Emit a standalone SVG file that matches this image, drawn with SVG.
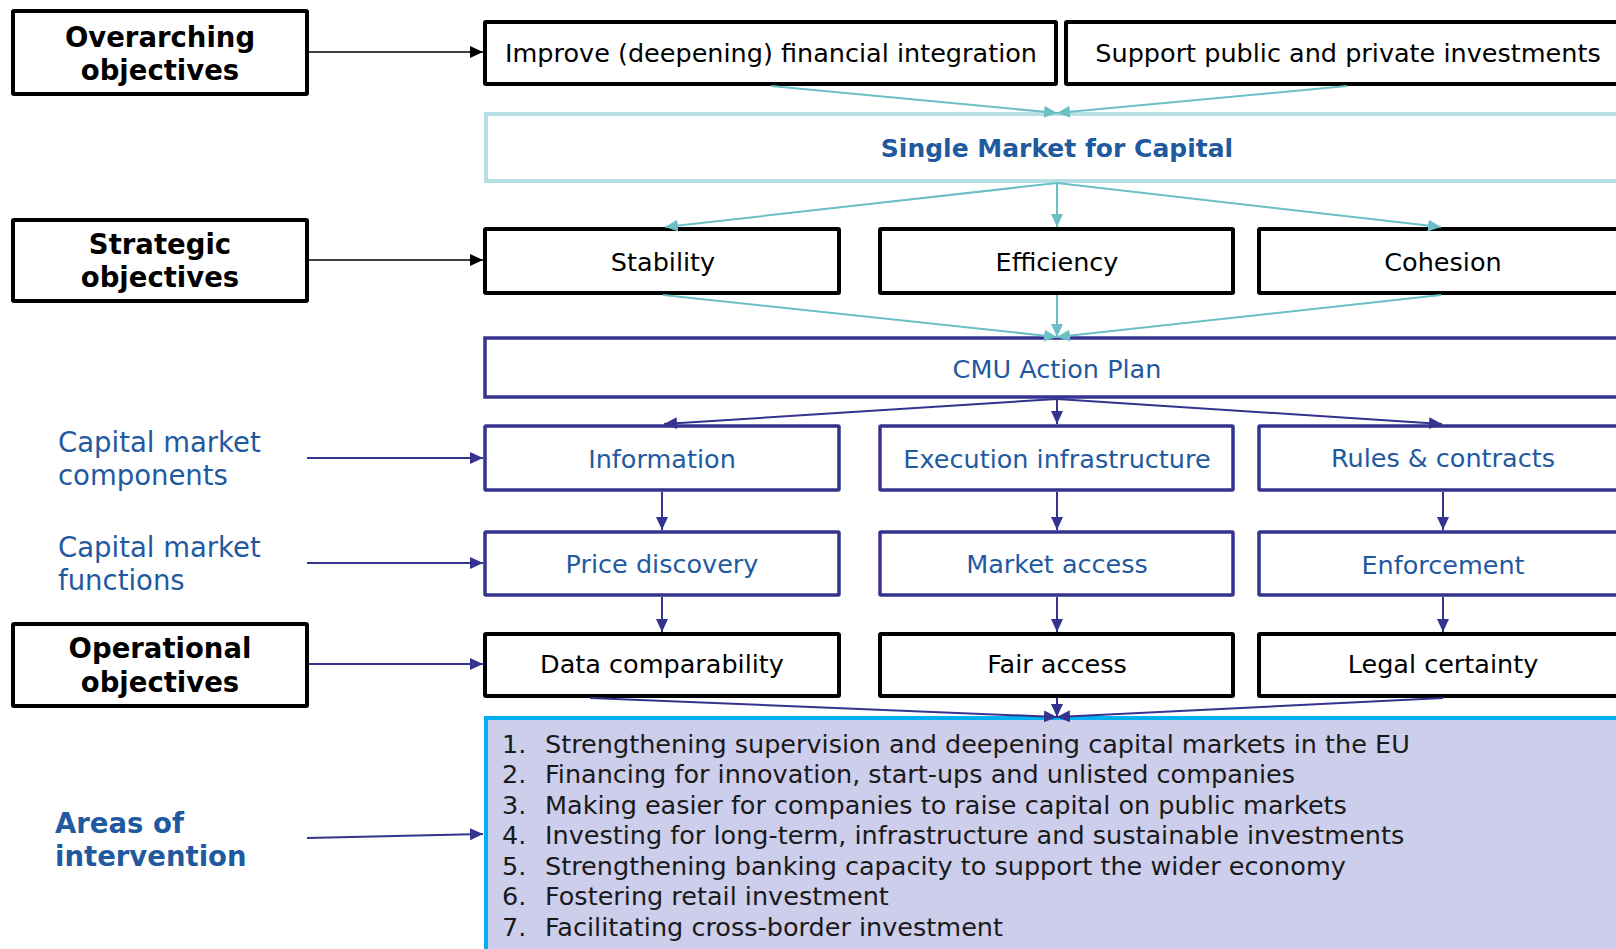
<svg xmlns="http://www.w3.org/2000/svg" width="1616" height="949" viewBox="0 0 1616 949">
<defs>
<style>
.bk{fill:#fff;stroke:#000;stroke-width:4}
.nv{fill:#fff;stroke:#34338f;stroke-width:3.5}
.tl{fill:#fff;stroke:#b6e0e4;stroke-width:4}
.ar{fill:#cdcdec;stroke:#00b0f0;stroke-width:4}
.t{font-family:"DejaVu Sans","Verdana",sans-serif;font-size:25.5px;text-anchor:middle}
.blk{fill:#000}
.blu{fill:#1f5aa0}
.hd{font-family:"DejaVu Sans","Verdana",sans-serif;font-weight:bold;font-size:27.5px;text-anchor:middle;fill:#000}
.lb{font-family:"DejaVu Sans","Verdana",sans-serif;font-size:27.5px;fill:#1f5aa0}
.lbb{font-family:"DejaVu Sans","Verdana",sans-serif;font-size:27.5px;font-weight:bold;fill:#1f5aa0}
.li{font-family:"DejaVu Sans","Verdana",sans-serif;font-size:25.5px;fill:#1a1a1a}
.ct{fill:none;stroke:#6dbfc6;stroke-width:2;marker-end:url(#mt)}
.cn{fill:none;stroke:#34338f;stroke-width:2;marker-end:url(#mn)}
.ck{fill:none;stroke:#000;stroke-width:1.6;marker-end:url(#mk)}
</style>
<marker id="mt" markerUnits="userSpaceOnUse" markerWidth="14" markerHeight="12" refX="13" refY="6" orient="auto"><path d="M0,0 L13,6 L0,12 z" fill="#6dbfc6"/></marker>
<marker id="mn" markerUnits="userSpaceOnUse" markerWidth="14" markerHeight="12" refX="13" refY="6" orient="auto"><path d="M0,0 L13,6 L0,12 z" fill="#34338f"/></marker>
<marker id="mk" markerUnits="userSpaceOnUse" markerWidth="14" markerHeight="12" refX="13" refY="6" orient="auto"><path d="M0,0 L13,6 L0,12 z" fill="#000"/></marker>
</defs>
<rect width="1616" height="949" fill="#fff"/>

<g id="areas">
<rect class="ar" x="486" y="718" width="1200" height="300"/>
<text class="li"><tspan x="502" y="753">1.</tspan><tspan x="545" y="753">Strengthening supervision and deepening capital markets in the EU</tspan></text>
<text class="li"><tspan x="502" y="783">2.</tspan><tspan x="545" y="783">Financing for innovation, start-ups and unlisted companies</tspan></text>
<text class="li"><tspan x="502" y="814">3.</tspan><tspan x="545" y="814">Making easier for companies to raise capital on public markets</tspan></text>
<text class="li"><tspan x="502" y="844">4.</tspan><tspan x="545" y="844">Investing for long-term, infrastructure and sustainable investments</tspan></text>
<text class="li"><tspan x="502" y="875">5.</tspan><tspan x="545" y="875">Strengthening banking capacity to support the wider economy</tspan></text>
<text class="li"><tspan x="502" y="905">6.</tspan><tspan x="545" y="905">Fostering retail investment</tspan></text>
<text class="li"><tspan x="502" y="936">7.</tspan><tspan x="545" y="936">Facilitating cross-border investment</tspan></text>
</g>

<g id="overarching-label"><rect class="bk" x="13" y="11" width="294" height="83" rx="1"/><text class="hd" x="160" y="47">Overarching</text><text class="hd" x="160" y="80">objectives</text></g>
<g id="strategic-label"><rect class="bk" x="13" y="220" width="294" height="81" rx="1"/><text class="hd" x="160" y="254">Strategic</text><text class="hd" x="160" y="287">objectives</text></g>
<g id="operational-label"><rect class="bk" x="13" y="624" width="294" height="82" rx="1"/><text class="hd" x="160" y="658">Operational</text><text class="hd" x="160" y="692">objectives</text></g>
<g id="components-label"><text class="lb" x="58" y="452">Capital market</text><text class="lb" x="58" y="485">components</text></g>
<g id="functions-label"><text class="lb" x="58" y="557">Capital market</text><text class="lb" x="58" y="590">functions</text></g>
<g id="areas-label"><text class="lbb" x="55" y="833">Areas of</text><text class="lbb" x="55" y="866">intervention</text></g>

<g id="improve"><rect class="bk" x="485" y="22" width="571" height="62" rx="1"/><text class="t blk" x="771" y="62">Improve (deepening) financial integration</text></g>
<g id="support"><rect class="bk" x="1066" y="22" width="600" height="62" rx="1"/><text class="t blk" x="1348" y="62">Support public and private investments</text></g>
<g id="single-market"><rect class="tl" x="486" y="114" width="1200" height="67"/><text class="t blu" x="1057" y="157" style="font-weight:bold;font-size:25px">Single Market for Capital</text></g>
<g id="stability"><rect class="bk" x="485" y="229" width="354" height="64" rx="1"/><text class="t blk" x="663" y="271">Stability</text></g>
<g id="efficiency"><rect class="bk" x="880" y="229" width="353" height="64" rx="1"/><text class="t blk" x="1057" y="271">Efficiency</text></g>
<g id="cohesion"><rect class="bk" x="1259" y="229" width="400" height="64" rx="1"/><text class="t blk" x="1443" y="271">Cohesion</text></g>
<g id="cmu"><rect class="nv" x="485" y="338" width="1200" height="59"/><text class="t blu" x="1057" y="378">CMU Action Plan</text></g>
<g id="information"><rect class="nv" x="485" y="426" width="354" height="64" rx="1"/><text class="t blu" x="662" y="468">Information</text></g>
<g id="execution"><rect class="nv" x="880" y="426" width="353" height="64" rx="1"/><text class="t blu" x="1057" y="468">Execution infrastructure</text></g>
<g id="rules"><rect class="nv" x="1259" y="426" width="400" height="64" rx="1"/><text class="t blu" x="1443" y="467">Rules &amp; contracts</text></g>
<g id="price"><rect class="nv" x="485" y="532" width="354" height="63" rx="1"/><text class="t blu" x="662" y="573">Price discovery</text></g>
<g id="market-access"><rect class="nv" x="880" y="532" width="353" height="63" rx="1"/><text class="t blu" x="1057" y="573">Market access</text></g>
<g id="enforcement"><rect class="nv" x="1259" y="532" width="400" height="63" rx="1"/><text class="t blu" x="1443" y="574">Enforcement</text></g>
<g id="data"><rect class="bk" x="485" y="634" width="354" height="62" rx="1"/><text class="t blk" x="662" y="673">Data comparability</text></g>
<g id="fair"><rect class="bk" x="880" y="634" width="353" height="62" rx="1"/><text class="t blk" x="1057" y="673">Fair access</text></g>
<g id="legal"><rect class="bk" x="1259" y="634" width="400" height="62" rx="1"/><text class="t blk" x="1443" y="673">Legal certainty</text></g>

<g id="connectors">
<path class="ck" d="M309,52 H483"/>
<path class="ck" d="M309,260 H483"/>
<path class="cn" d="M307,458 H483"/>
<path class="cn" d="M307,563 H483"/>
<path class="cn" d="M309,664 H483"/>
<path class="cn" d="M307,838 L483,834"/>
<path class="ct" d="M771,86 L1057,113"/>
<path class="ct" d="M1347,86 L1057,113"/>
<path class="ct" d="M1057,183 L665,227"/>
<path class="ct" d="M1057,183 L1057,227"/>
<path class="ct" d="M1057,183 L1441,227"/>
<path class="ct" d="M663,295 L1057,337"/>
<path class="ct" d="M1057,295 L1057,337"/>
<path class="ct" d="M1441,295 L1057,337"/>
<path class="cn" d="M1057,399 L664,424"/>
<path class="cn" d="M1057,399 L1057,424"/>
<path class="cn" d="M1057,399 L1442,424"/>
<path class="cn" d="M662,492 V530"/>
<path class="cn" d="M1057,492 V530"/>
<path class="cn" d="M1443,492 V530"/>
<path class="cn" d="M662,597 V632"/>
<path class="cn" d="M1057,597 V632"/>
<path class="cn" d="M1443,597 V632"/>
<path class="cn" d="M590,698 L1057,717"/>
<path class="cn" d="M1057,698 L1057,717"/>
<path class="cn" d="M1443,698 L1057,717"/>
</g>
</svg>
